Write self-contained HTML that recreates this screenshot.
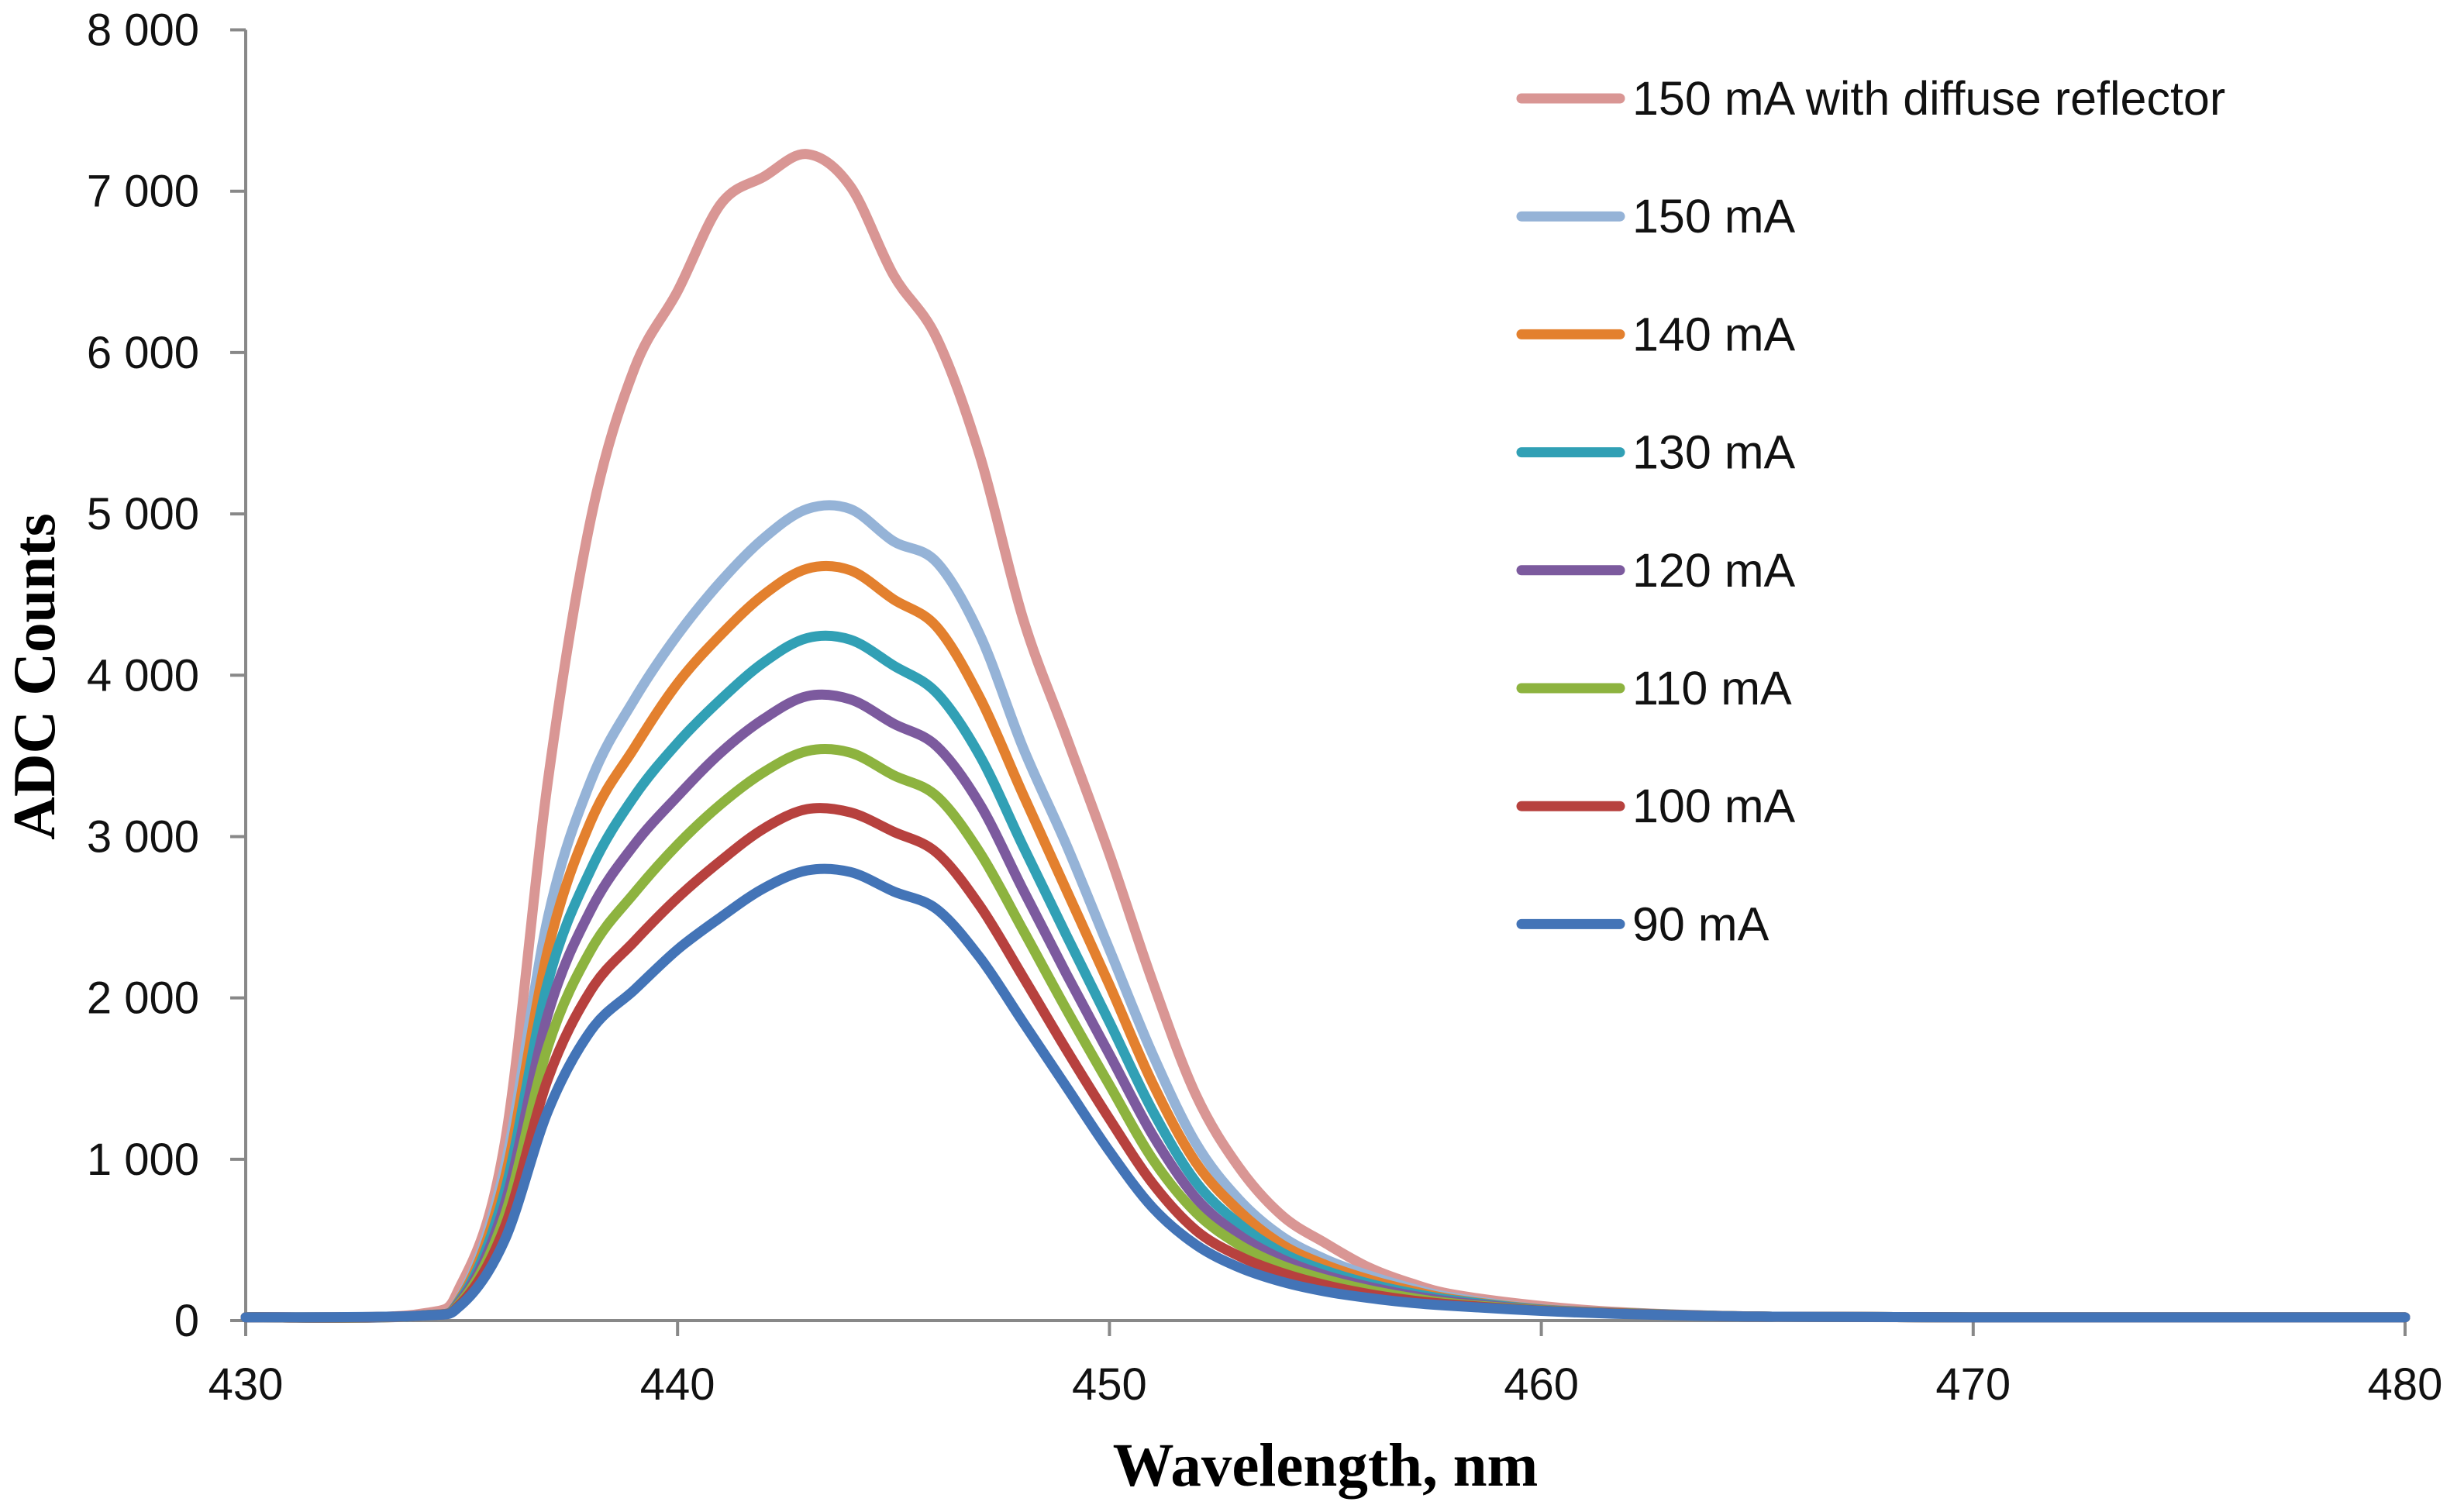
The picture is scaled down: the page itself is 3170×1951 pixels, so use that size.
<!DOCTYPE html>
<html><head><meta charset="utf-8"><style>
html,body{margin:0;padding:0;background:#fff;}
svg{display:block;}
</style></head><body>
<svg id="chart" width="3170" height="1951" viewBox="0 0 3170 1951" xmlns="http://www.w3.org/2000/svg">
<g id="axes"></g><g id="series"></g><g id="legend"></g>
<text x="0" y="0" transform="translate(70,873) rotate(-90)" text-anchor="middle" font-family="Liberation Serif, serif" font-weight="bold" font-size="77">ADC Counts</text>
<text x="1710" y="1917" text-anchor="middle" font-family="Liberation Serif, serif" font-weight="bold" font-size="79">Wavelength, nm</text>
</svg>
<script>
const wavelengths=[430,434,435,436,437,438,439,440,441,442,443,444,445,446,447,448,449,450,451,452,453,454,455,456,457,458,460,462,465,470,480];
const s150r=[20,40,230,1100,3350,4980,5900,6380,6920,7090,7230,7030,6480,6090,5360,4350,3620,2890,2100,1400,950,650,480,330,230,160,90,50,25,20,20];
const s150=[20,30,160,950,2500,3350,3850,4250,4580,4850,5030,5030,4830,4700,4250,3550,2950,2300,1650,1100,750,520,380,280,200,140,72,47,25,20,20];
const s140=[20,30,150,880,2300,3100,3550,3950,4250,4500,4660,4650,4470,4300,3860,3260,2670,2080,1470,980,680,470,345,255,185,130,70,46,25,20,20];
const s130=[20,30,140,800,2100,2800,3250,3580,3850,4080,4230,4220,4060,3890,3500,2940,2390,1850,1300,860,600,420,310,230,170,125,68,45,25,20,20];
const s120=[20,30,130,720,1900,2550,2950,3250,3520,3730,3870,3850,3700,3560,3200,2670,2150,1650,1150,760,530,380,280,210,155,115,66,44,25,20,20];
const s110=[20,30,120,650,1700,2300,2650,2950,3200,3400,3530,3520,3380,3250,2900,2420,1930,1460,1000,670,470,340,255,190,140,105,64,43,25,20,20];
const s100=[20,30,110,580,1500,2050,2350,2620,2850,3050,3170,3150,3030,2900,2570,2130,1680,1250,850,560,400,295,220,165,125,98,62,42,25,20,20];
const s90=[20,30,100,500,1300,1800,2050,2300,2500,2680,2790,2780,2660,2550,2250,1850,1450,1050,700,470,330,240,180,140,110,90,60,40,25,20,20];
const seriesNames=["150 mA with diffuse reflector","150 mA","140 mA","130 mA","120 mA","110 mA","100 mA","90 mA"];
const seriesData=[s150r,s150,s140,s130,s120,s110,s100,s90];
const seriesColors=["#D99694","#95B3D7","#E3802E","#31A0B5","#7C5A9E","#8DB33F","#B7413E","#4374B7"];
const yTicks=[0,1000,2000,3000,4000,5000,6000,7000,8000];
const yTickLabels=["0","1 000","2 000","3 000","4 000","5 000","6 000","7 000","8 000"];
const xTicks=[430,440,450,460,470,480];
const xTickLabels=["430","440","450","460","470","480"];

const NS="http://www.w3.org/2000/svg";
const L=317,R=3103,T=38.5,B=1704;
const xs=v=>L+(v-430)/(480-430)*(R-L);
const ys=v=>B-(v/8000)*(B-T);
function mk(tag,attrs,parent){const e=document.createElementNS(NS,tag);for(const k in attrs)e.setAttribute(k,attrs[k]);parent.appendChild(e);return e;}
const axes=document.getElementById('axes');
const F="Liberation Sans, sans-serif";
let e=mk('line',{x1:L,y1:T,x2:L,y2:B,stroke:'#888','stroke-width':4},axes);


e=mk('line',{x1:L,y1:B,x2:R,y2:B,stroke:'#888','stroke-width':4},axes);


yTicks.forEach((v,i)=>{
  const t=mk('line',{x1:L-20,y1:ys(v),x2:L,y2:ys(v),stroke:'#888','stroke-width':4},axes);
  
  
  const l=mk('text',{x:L-60,y:ys(v)+20,'text-anchor':'end','font-family':F,'font-size':58,fill:'#111'},axes);
  l.textContent=yTickLabels[i];
  
  
});
xTicks.forEach((v,i)=>{
  const t=mk('line',{x1:xs(v),y1:B,x2:xs(v),y2:B+20,stroke:'#888','stroke-width':4},axes);
  
  
  const l=mk('text',{x:xs(v),y:B+102,'text-anchor':'middle','font-family':F,'font-size':58,fill:'#111'},axes);
  l.textContent=xTickLabels[i];
  
  
});
function pathFor(arr){
  const p=wavelengths.map((w,i)=>[xs(w),ys(arr[i])]);
  let d='M'+p[0][0]+','+p[0][1];
  for(let i=0;i<p.length-1;i++){
    const p0=p[i-1]||p[i],p1=p[i],p2=p[i+1],p3=p[i+2]||p2;
    const c1=[p1[0]+(p2[0]-p0[0])/6,p1[1]+(p2[1]-p0[1])/6];
    const c2=[p2[0]-(p3[0]-p1[0])/6,p2[1]-(p3[1]-p1[1])/6];
    d+='C'+c1[0]+','+c1[1]+' '+c2[0]+','+c2[1]+' '+p2[0]+','+p2[1];
  }
  return d;
}
const sg=document.getElementById('series');
const lg=document.getElementById('legend');
seriesData.forEach((arr,i)=>{
  const pth=mk('path',{d:pathFor(arr),fill:'none',stroke:seriesColors[i],'stroke-width':13,'stroke-linejoin':'round','stroke-linecap':'round'},sg);
  
  
  const y=127+152.2*i;
  const g=mk('g',{},lg);
  
  
  mk('line',{x1:1963,y1:y,x2:2090,y2:y,stroke:seriesColors[i],'stroke-width':13,'stroke-linecap':'round'},g);
  const t=mk('text',{x:2106,y:y+21,'font-family':F,'font-size':61,fill:'#111'},g);
  t.textContent=seriesNames[i];
});
</script>
</body></html>
